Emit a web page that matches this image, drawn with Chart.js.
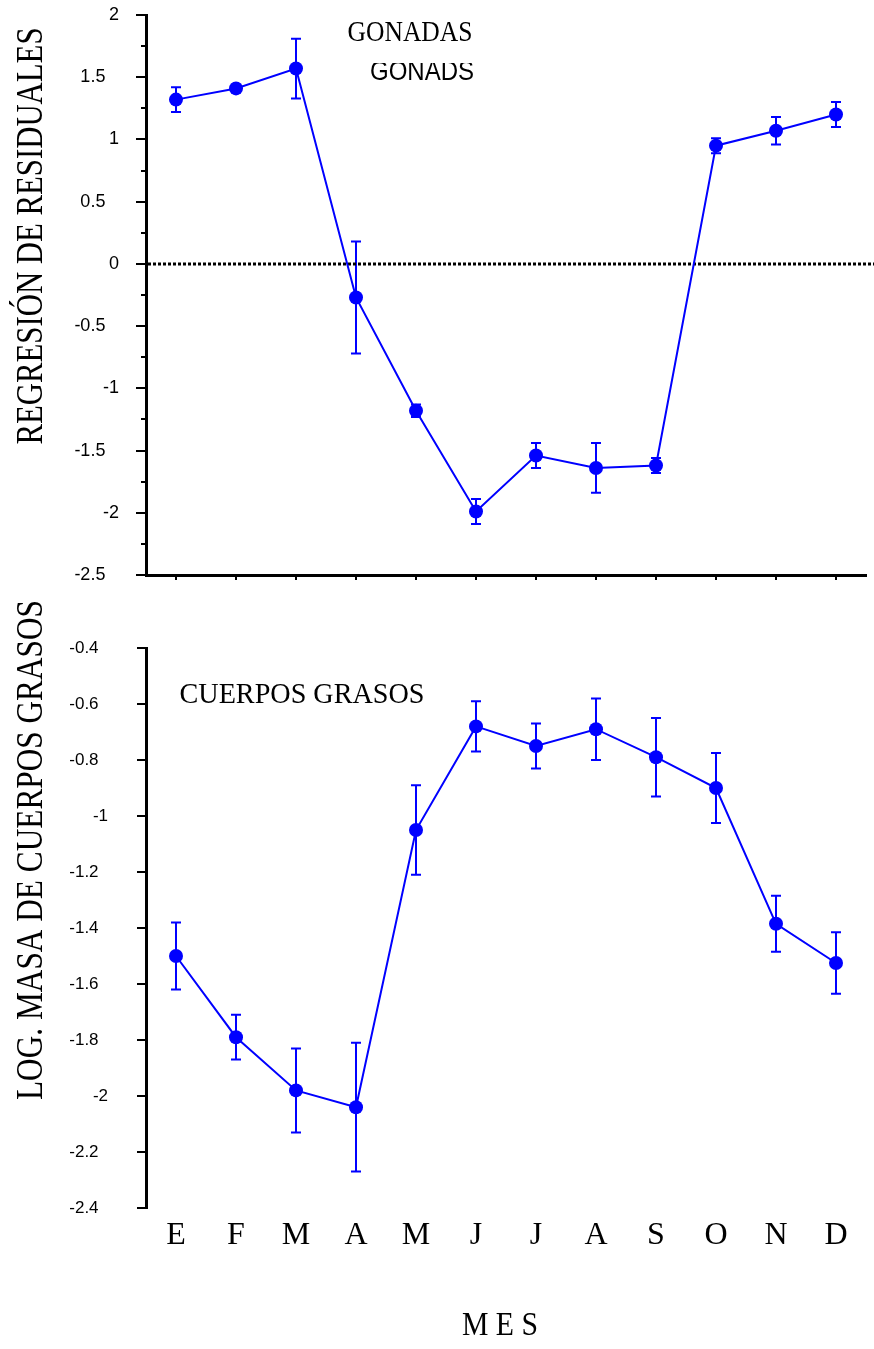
<!DOCTYPE html>
<html>
<head>
<meta charset="utf-8">
<script src="https://cdn.jsdelivr.net/npm/chart.js@4.4.0/dist/chart.umd.min.js"></script>
<style>
  body { margin: 0; background: #fff; }
  #wrap { position: relative; width: 874px; height: 1349px; }
  canvas { position: absolute; left: 0; }
</style>
</head>
<body>
<div id="wrap">
  <canvas id="gonadChart" width="874" height="600" style="top:0"></canvas>
  <canvas id="fatChart" width="874" height="769" style="top:580px"></canvas>
</div>
<script>
// months (Spanish initials)
var months = ['E', 'F', 'M', 'A', 'M', 'J', 'J', 'A', 'S', 'O', 'N', 'D'];

// gonads: regression residuals, mean and error
var gonadMeans = [1.32, 1.41, 1.57, -0.27, -1.18, -1.99, -1.54, -1.64, -1.62, 0.95, 1.07, 1.2];
var gonadErrors = [0.1, 0.03, 0.24, 0.45, 0.05, 0.1, 0.1, 0.2, 0.06, 0.06, 0.11, 0.1];
var gonadRange = [-2.5, 2];
var gonadStep = 0.5;

// fat bodies: log mass, mean and error
var fatMeans = [-1.5, -1.79, -1.98, -2.04, -1.05, -0.68, -0.75, -0.69, -0.79, -0.9, -1.385, -1.525];
var fatErrors = [0.12, 0.08, 0.15, 0.23, 0.16, 0.09, 0.08, 0.11, 0.14, 0.125, 0.1, 0.11];
var fatRange = [-2.4, -0.4];
var fatStep = 0.2;

var BLUE = '#0000ff';

// text squeezed to a given width (the original type is condensed)
function fitText(ctx, text, x, y, size, family, width, rotate) {
  ctx.save();
  ctx.translate(x, y);
  if (rotate) ctx.rotate(-Math.PI / 2);
  ctx.font = size + 'px ' + family;
  var w = ctx.measureText(text).width;
  ctx.scale(width / w, 1);
  ctx.fillStyle = '#000';
  ctx.textAlign = 'center';
  ctx.textBaseline = 'alphabetic';
  ctx.fillText(text, 0, 0);
  ctx.restore();
}

function tickLabel(pad) {
  return function (v) {
    var r = Math.round(v * 10) / 10;
    return Number.isInteger(r) ? String(r) : r.toFixed(1) + pad;
  };
}

// keep the axis box to a fixed width and stop label padding from shrinking the plot
function fixAxis(width) {
  return function (s) {
    s.width = width;
    s.paddingTop = 5;
    s.paddingBottom = 5;
  };
}

var errorBars = {
  id: 'errorBars',
  beforeDatasetsDraw: function (chart, args, opts) {
    var ctx = chart.ctx, xs = chart.scales.x, ys = chart.scales.y;
    var means = chart.data.datasets[0].data;
    ctx.save();
    ctx.strokeStyle = BLUE;
    ctx.lineWidth = 2;
    means.forEach(function (m, i) {
      var x = xs.getPixelForValue(i);
      var y1 = ys.getPixelForValue(m + opts.err[i]);
      var y2 = ys.getPixelForValue(m - opts.err[i]);
      ctx.beginPath();
      ctx.moveTo(x, y1); ctx.lineTo(x, y2);
      ctx.moveTo(x - 5, y1); ctx.lineTo(x + 5, y1);
      ctx.moveTo(x - 5, y2); ctx.lineTo(x + 5, y2);
      ctx.stroke();
    });
    ctx.restore();
  }
};

var gonadDecor = {
  id: 'gonadDecor',
  beforeDatasetsDraw: function (chart) {
    var ctx = chart.ctx, ys = chart.scales.y, area = chart.chartArea;
    ctx.save();
    // minor ticks
    ctx.strokeStyle = '#000';
    ctx.lineWidth = 2;
    for (var v = gonadRange[0] + gonadStep / 2; v < gonadRange[1]; v += gonadStep) {
      var y = Math.round(ys.getPixelForValue(v));
      ctx.beginPath();
      ctx.moveTo(area.left - 5, y); ctx.lineTo(area.left, y);
      ctx.stroke();
    }
    // dotted zero line
    var y0 = ys.getPixelForValue(0);
    ctx.lineWidth = 3;
    ctx.setLineDash([3, 2]);
    ctx.beginPath();
    ctx.moveTo(area.left + 2, y0); ctx.lineTo(chart.width, y0);
    ctx.stroke();
    ctx.restore();
  },
  afterDraw: function (chart) {
    var ctx = chart.ctx;
    fitText(ctx, 'REGRESIÓN DE RESIDUALES', 42, 236, 38, '"Liberation Serif", serif', 417, true);
    fitText(ctx, 'GONADAS', 410, 41, 29, '"Liberation Serif", serif', 125, false);
    ctx.save();
    ctx.beginPath();
    ctx.rect(300, 63, 300, 40);
    ctx.clip();
    fitText(ctx, 'GONADS', 422, 80, 28, '"Liberation Sans", sans-serif', 104, false);
    ctx.restore();
  }
};

var fatDecor = {
  id: 'fatDecor',
  afterDraw: function (chart) {
    var ctx = chart.ctx;
    fitText(ctx, 'LOG. MASA DE CUERPOS GRASOS', 42, 270, 38, '"Liberation Serif", serif', 500, true);
    fitText(ctx, 'CUERPOS GRASOS', 302, 123, 30, '"Liberation Serif", serif', 245, false);
    fitText(ctx, 'M E S', 500, 755, 33, '"Liberation Serif", serif', 76, false);
  }
};

function lineData(values) {
  return {
    labels: months,
    datasets: [{
      data: values,
      borderColor: BLUE,
      backgroundColor: BLUE,
      borderWidth: 2,
      pointRadius: 7,
      pointHoverRadius: 7,
      pointBorderWidth: 0,
      pointBackgroundColor: BLUE,
      tension: 0,
      clip: false
    }]
  };
}

new Chart(document.getElementById('gonadChart'), {
  type: 'line',
  data: lineData(gonadMeans),
  plugins: [errorBars, gonadDecor],
  options: {
    responsive: false,
    animation: false,
    events: [],
    layout: { padding: { top: 15, right: 8, left: 0, bottom: 0 } },
    plugins: {
      legend: { display: false },
      tooltip: { enabled: false },
      errorBars: { err: gonadErrors }
    },
    scales: {
      x: {
        offset: true,
        afterFit: function (s) { s.height = 25; },
        ticks: { display: false },
        grid: { drawOnChartArea: false, drawTicks: true, tickLength: 5, color: '#000', lineWidth: 2 },
        border: { color: '#000', width: 3 }
      },
      y: {
        min: gonadRange[0],
        max: gonadRange[1],
        afterFit: fixAxis(146),
        ticks: {
          stepSize: gonadStep,
          padding: 17,
          color: '#000',
          font: { family: '"Liberation Sans", Arial, sans-serif', size: 18 },
          callback: tickLabel('  \u2009')
        },
        grid: { drawOnChartArea: false, tickLength: 10, color: '#000', lineWidth: 2 },
        border: { color: '#000', width: 3 }
      }
    }
  }
});

new Chart(document.getElementById('fatChart'), {
  type: 'line',
  data: lineData(fatMeans),
  plugins: [errorBars, fatDecor],
  options: {
    responsive: false,
    animation: false,
    events: [],
    layout: { padding: { top: 68, right: 8, left: 0, bottom: 0 } },
    plugins: {
      legend: { display: false },
      tooltip: { enabled: false },
      errorBars: { err: fatErrors }
    },
    scales: {
      x: {
        offset: true,
        afterFit: function (s) { s.height = 141; },
        ticks: {
          padding: 8,
          color: '#000',
          maxRotation: 0,
          autoSkip: false,
          font: { family: '"Liberation Serif", serif', size: 32 }
        },
        grid: { display: false, drawTicks: false },
        border: { display: false }
      },
      y: {
        min: fatRange[0],
        max: fatRange[1],
        afterFit: fixAxis(146),
        ticks: {
          stepSize: fatStep,
          padding: 29,
          color: '#000',
          font: { family: '"Liberation Sans", Arial, sans-serif', size: 17 },
          callback: tickLabel('  ')
        },
        grid: { drawOnChartArea: false, tickLength: 9, color: '#000', lineWidth: 2 },
        border: { color: '#000', width: 3 }
      }
    }
  }
});
</script>
</body>
</html>
